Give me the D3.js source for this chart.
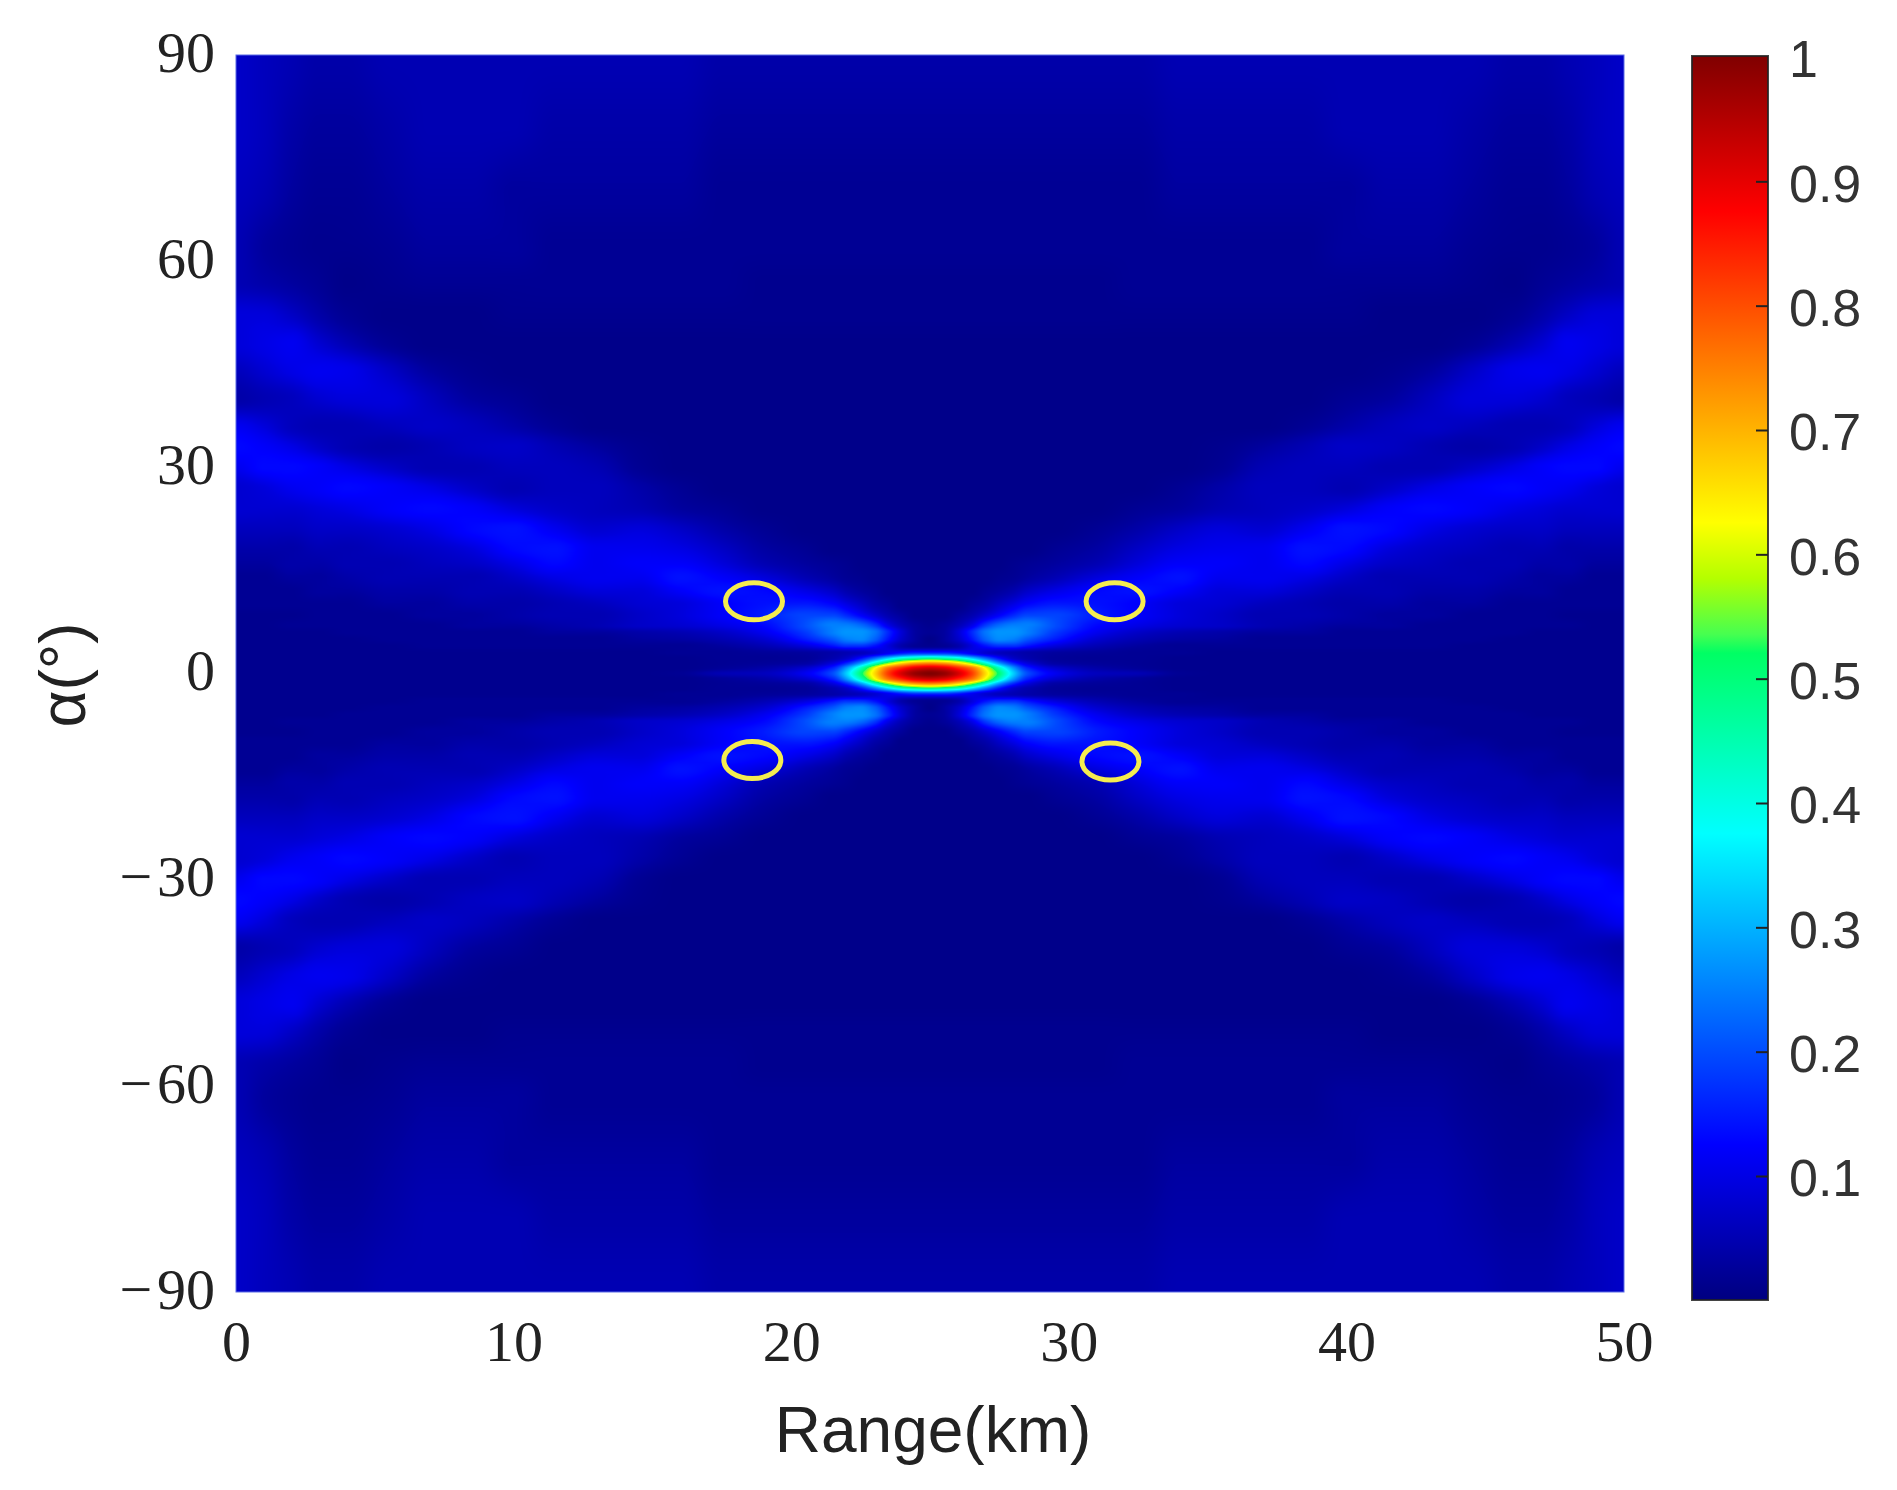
<!DOCTYPE html>
<html>
<head>
<meta charset="utf-8">
<script src="https://cdn.jsdelivr.net/npm/d3@7"></script>
<style>
  body { margin: 0; background: #fff; }
  .serif text { font-family: "Liberation Serif", serif; font-size: 58px; fill: #222; }
  .cbar text { font-family: "Liberation Sans", sans-serif; font-size: 52px; fill: #333; }
  .label { font-family: "Liberation Sans", sans-serif; font-size: 64px; fill: #222; }
</style>
</head>
<body>
<div id="chart"></div>
<script>
///////////////////////////////////////////////////////////////////////////
////////////////////////////////// Data ///////////////////////////////////
///////////////////////////////////////////////////////////////////////////

var xTicks = [0, 10, 20, 30, 40, 50];
var yTicks = [90, 60, 30, 0, -30, -60, -90];
var cbarTicks = [1, 0.9, 0.8, 0.7, 0.6, 0.5, 0.4, 0.3, 0.2, 0.1];

//Colormap (jet with a jump in the green part)
var colorStops = [0, 0.125, 0.375, 0.52, 0.535, 0.58, 0.625, 0.875, 1];
var colorValues = ["#000080", "#0000ff", "#00ffff", "#00ff64", "#46ff50", "#b4ff00", "#ffff00", "#ff0000", "#800000"];

//Picture is mirrored around 25 km and 0 degrees, so only one quadrant is read (in percent)
var rangeNodes = [0, 1, 2, 3, 4, 5.5, 7, 8.5, 10, 11.5, 13, 14.5, 16, 17.5, 19, 20.5, 21.5, 22, 22.5, 23, 23.5, 24, 24.5, 25];
var alphaNodes = [90, 80, 70, 62, 57, 52, 48, 44, 40, 36, 33, 30, 27, 24, 21, 18, 16, 14, 12, 10, 8.5, 7, 6, 5, 4, 3, 2.25, 1.5, 0.75, 0];
var heatValues = [
  [7, 6, 5, 4, 4, 5, 5, 5, 5, 5, 5, 5, 5, 4, 4, 4, 4, 4, 4, 4, 4, 4, 4, 4],
  [7, 6, 4, 3, 3, 4, 5, 5, 5, 4, 4, 4, 4, 3, 3, 3, 3, 3, 3, 3, 3, 3, 3, 3],
  [6, 5, 3, 2, 2, 3, 4, 4, 3, 3, 3, 3, 3, 2, 2, 2, 2, 2, 2, 2, 2, 2, 2, 2],
  [5, 3, 2, 1.5, 1.5, 2, 3, 3, 3, 2, 2, 2, 2, 2, 2, 2, 2, 2, 2, 2, 2, 2, 2, 2],
  [5, 4, 3, 2, 1, 1.5, 2, 2, 2, 2, 2, 2, 2, 2, 1.5, 1.5, 1.5, 1.5, 1.5, 1.5, 1.5, 1.5, 1.5, 1.5],
  [9, 9, 7, 4, 2, 1, 1, 1, 1.5, 1.5, 1.5, 1.5, 1.5, 1.5, 1.5, 1.5, 1.5, 1.5, 1.5, 1.5, 1.5, 1.5, 1.5, 1.5],
  [9, 10, 11, 8, 5, 2, 1, 1, 1, 1, 1, 1, 1, 1, 1, 1, 1, 1, 1, 1, 1, 1, 1, 1],
  [6, 8, 10, 11, 10.5, 7, 3, 1.5, 1, 1, 1, 1, 1, 1, 1, 1, 1, 1, 1, 1, 1, 1, 1, 1],
  [4, 5, 6, 8, 9, 9, 6, 3, 2, 1, 1, 1, 1, 1, 1, 1, 1, 1, 1, 1, 1, 1, 1, 1],
  [11, 9, 6, 5, 5, 6, 7, 6, 4, 2, 1, 1, 1, 1, 1, 1, 1, 1, 1, 1, 1, 1, 1, 1],
  [13, 12, 10, 7, 5, 4, 5, 6.5, 7, 5, 3, 1.5, 1, 1, 1, 1, 1, 1, 1, 1, 1, 1, 1, 1],
  [11, 13, 13, 12, 10, 7, 5, 5, 6, 6, 5, 2, 1, 1, 1, 1, 1, 1, 1, 1, 1, 1, 1, 1],
  [8, 9, 11, 12, 13, 12, 10, 7, 5, 6, 6, 4, 2, 1, 1, 1, 1, 1, 1, 1, 1, 1, 1, 1],
  [8, 8, 8, 9, 10, 12, 13, 12, 9, 7, 6, 5, 3, 2, 1, 1, 1, 1, 1, 1, 1, 1, 1, 1],
  [6, 6, 6, 7, 7, 8, 10, 13, 14, 11, 8, 9, 7, 4, 2, 1, 1, 1, 1, 1, 1, 1, 1, 1],
  [4, 4, 4, 5, 5, 6, 7, 9, 13, 14, 11, 11, 10, 7, 3.5, 2, 1, 1, 1, 1, 1, 1, 1, 1],
  [3, 3, 4, 4, 5, 5, 6, 7, 10, 13, 11, 12, 12, 9, 5, 3, 2, 1.5, 1, 1, 1, 1, 1, 1],
  [2, 2, 3, 3, 4, 5, 5, 5, 7, 10, 11, 11, 14, 12, 9, 5, 3, 2, 1.5, 1, 1, 1, 1, 1],
  [2, 2, 2, 3, 3, 4, 4, 5, 5, 7, 9, 9, 12, 14, 13, 10, 7, 4.5, 3, 2, 1, 1, 1, 1],
  [2, 2, 2, 2, 2, 3, 3, 4, 4, 5, 6, 8, 9, 12, 14, 15, 13, 10, 7, 4, 2.5, 1, 1, 1],
  [1.5, 1.5, 1.5, 2, 2, 2, 3, 3, 4, 5, 5, 7, 9, 12, 15, 19, 19, 16, 12, 8, 4.5, 2.5, 1, 1],
  [1.5, 1.5, 2, 2, 2, 2, 2, 3, 3, 4, 5, 7, 8, 10, 13, 20, 25, 25, 23, 18, 10, 5, 2.5, 1.5],
  [1.5, 1.5, 1.5, 1.5, 2, 2, 2, 2, 2, 3, 3, 4, 5, 7, 11, 18, 25, 27, 27, 24, 16, 8, 3, 2],
  [1.5, 1.5, 1.5, 1.5, 1.5, 2, 2, 2, 2, 2, 2, 3, 3.5, 5, 8, 15, 21, 25, 26, 22, 14, 7, 3, 1],
  [1.5, 1.5, 1.5, 1.5, 1.5, 1.5, 2, 2, 2, 2, 2, 2, 2, 3, 5, 9, 14, 17, 17, 14, 9, 4, 2, 1.5],
  [1.5, 1.5, 1.5, 1.5, 1.5, 1.5, 1.5, 1.5, 1.5, 1.5, 1.5, 1.5, 2, 2, 2.5, 3, 4, 5, 6, 8, 11, 14, 16, 16],
  [1.5, 1.5, 1.5, 1.5, 1.5, 1.5, 1.5, 1.5, 1.5, 1.5, 1.5, 1.5, 1.5, 2, 2, 2.5, 4.5, 7, 13, 22, 32, 40, 44, 46],
  [1.5, 1.5, 1.5, 1.5, 1.5, 1.5, 1.5, 1.5, 1.5, 1.5, 1.5, 1.5, 1.5, 2, 2.5, 3.5, 9, 16, 27, 42, 56, 66, 72, 74],
  [1.5, 1.5, 1.5, 1.5, 1.5, 1.5, 1.5, 1.5, 1.5, 1.5, 1.5, 1.5, 1.5, 2.5, 4, 8, 16, 28, 44, 62, 77, 85, 91, 93],
  [1.5, 1.5, 1.5, 1.5, 1.5, 1.5, 1.5, 1.5, 1.5, 1.5, 1.5, 1.5, 2, 5, 6, 11, 20, 33, 50, 66, 82, 92, 98, 100]
];

//Yellow markers, centres in km and degrees
var markerRange = [18.66, 31.65, 18.6, 31.5];
var markerAlpha = [10.5, 10.5, -12.6, -12.8];

///////////////////////////////////////////////////////////////////////////
///////////////////////////////// Set up //////////////////////////////////
///////////////////////////////////////////////////////////////////////////

var plot = {left: 236, right: 1624, top: 55, bottom: 1292};
var bar = {left: 1692, right: 1768, top: 56, bottom: 1300};

var svg = d3.select("#chart").append("svg")
  .attr("width", 1897)
  .attr("height", 1490)
  .style("display", "block");

var xScale = d3.scaleLinear().domain([0, 50]).range([plot.left, plot.right]);
var yScale = d3.scaleLinear().domain([-90, 90]).range([plot.bottom, plot.top]);
var cbarScale = d3.scaleLinear().domain([0.1, 1]).range([1176, 57]);
var colorScale = d3.scaleLinear().domain(colorStops).range(colorValues).clamp(true);

///////////////////////////////////////////////////////////////////////////
/////////////////////////////// Heat image ////////////////////////////////
///////////////////////////////////////////////////////////////////////////

//Monotone tangents, so the smooth drawing does not overshoot the read values
function tangents(xs, ys) {
  var m = [0];
  for (var i = 1; i < xs.length - 1; i++) {
    var d0 = (ys[i] - ys[i-1]) / (xs[i] - xs[i-1]);
    var d1 = (ys[i+1] - ys[i]) / (xs[i+1] - xs[i]);
    m.push(d0 * d1 <= 0 ? 0 : 2 * d0 * d1 / (d0 + d1));
  }
  m.push(0);
  return m;
}

function hermite(xs, ys, ms, x) {
  var i = Math.max(0, Math.min(xs.length - 2, d3.bisectRight(xs, x) - 1));
  var h = xs[i+1] - xs[i], t = (x - xs[i]) / h, t2 = t * t, t3 = t2 * t;
  return (2*t3 - 3*t2 + 1) * ys[i] + (t3 - 2*t2 + t) * h * ms[i] +
         (-2*t3 + 3*t2) * ys[i+1] + (t3 - t2) * h * ms[i+1];
}

var alphaAsc = alphaNodes.slice().reverse();
var columns = rangeNodes.map(function(d, j) {
  var ys = heatValues.map(function(row) { return row[j]; }).reverse();
  return {ys: ys, ms: tangents(alphaAsc, ys)};
});

var w = plot.right - plot.left, h = plot.bottom - plot.top;
var canvas = document.createElement("canvas");
canvas.width = w;
canvas.height = h;
var ctx = canvas.getContext("2d");
var img = ctx.createImageData(w, h);

var lut = d3.range(1001).map(function(i) { return d3.rgb(colorScale(i / 1000)); });

for (var py = 0; py < h; py++) {
  var alpha = Math.abs(yScale.invert(plot.top + py + 0.5));
  var rowVals = columns.map(function(c) { return hermite(alphaAsc, c.ys, c.ms, alpha); });
  var rowTan = tangents(rangeNodes, rowVals);
  for (var px = 0; px < w; px++) {
    var km = xScale.invert(plot.left + px + 0.5);
    var v = hermite(rangeNodes, rowVals, rowTan, 25 - Math.abs(km - 25)) / 100;
    var c = lut[Math.max(0, Math.min(1000, Math.round(v * 1000)))];
    var k = (py * w + px) * 4;
    img.data[k] = c.r; img.data[k+1] = c.g; img.data[k+2] = c.b; img.data[k+3] = 255;
  }
}
ctx.putImageData(img, 0, 0);

svg.append("image")
  .attr("x", plot.left)
  .attr("y", plot.top)
  .attr("width", w)
  .attr("height", h)
  .attr("href", canvas.toDataURL());

//Thin light edge around the image
svg.append("rect")
  .attr("x", plot.left)
  .attr("y", plot.top)
  .attr("width", w)
  .attr("height", h)
  .style("fill", "none")
  .style("stroke", "#5a6ae6")
  .style("stroke-width", 1);

///////////////////////////////////////////////////////////////////////////
//////////////////////////////// Markers //////////////////////////////////
///////////////////////////////////////////////////////////////////////////

svg.selectAll(".marker")
  .data(markerRange)
  .enter().append("ellipse")
  .attr("class", "marker")
  .attr("cx", function(d) { return xScale(d); })
  .attr("cy", function(d, i) { return yScale(markerAlpha[i]); })
  .attr("rx", 28.5)
  .attr("ry", 18.5)
  .style("fill", "none")
  .style("stroke", "#f5ec50")
  .style("stroke-width", 5);

///////////////////////////////////////////////////////////////////////////
////////////////////////////////// Axes ///////////////////////////////////
///////////////////////////////////////////////////////////////////////////

function signed(d) { return d < 0 ? "\u2212\u200a" + (-d) : "" + d; }

var xAxis = svg.append("g")
  .attr("class", "serif")
  .attr("transform", "translate(0," + plot.bottom + ")")
  .call(d3.axisBottom(xScale).tickValues(xTicks).tickSize(0).tickPadding(28).tickFormat(signed));
xAxis.select(".domain").remove();

var yAxis = svg.append("g")
  .attr("class", "serif")
  .attr("transform", "translate(" + plot.left + ",0)")
  .call(d3.axisLeft(yScale).tickValues(yTicks).tickSize(0).tickPadding(21).tickFormat(signed));
yAxis.select(".domain").remove();
yAxis.selectAll("text").attr("dy", "0.28em");

svg.append("text")
  .attr("class", "label")
  .attr("x", 933)
  .attr("y", 1452)
  .style("text-anchor", "middle")
  .text("Range(km)");

svg.append("text")
  .attr("class", "label")
  .attr("transform", "translate(85,675) rotate(-90)")
  .style("text-anchor", "middle")
  .text("\u03b1(\u00b0)");

///////////////////////////////////////////////////////////////////////////
/////////////////////////////// Colorbar //////////////////////////////////
///////////////////////////////////////////////////////////////////////////

var defs = svg.append("defs");

defs.append("linearGradient")
  .attr("id", "cbar-gradient")
  .attr("x1", "0%").attr("y1", "100%")
  .attr("x2", "0%").attr("y2", "0%")
  .selectAll("stop")
  .data(colorStops)
  .enter().append("stop")
  .attr("offset", function(d) { return d; })
  .attr("stop-color", function(d, i) { return colorValues[i]; });

svg.append("rect")
  .attr("x", bar.left)
  .attr("y", bar.top)
  .attr("width", bar.right - bar.left)
  .attr("height", bar.bottom - bar.top)
  .style("fill", "url(#cbar-gradient)")
  .style("stroke", "#222")
  .style("stroke-opacity", 0.85)
  .style("stroke-width", 2);

var cbarAxis = svg.append("g")
  .attr("class", "cbar")
  .attr("transform", "translate(" + bar.right + ",0)")
  .call(d3.axisRight(cbarScale).tickValues(cbarTicks).tickSize(-12).tickPadding(21).tickFormat(d3.format("")));
cbarAxis.select(".domain").remove();
cbarAxis.selectAll("line").style("stroke", "#222").style("stroke-width", 2);
cbarAxis.selectAll("line").filter(function(d) { return d === 1; }).remove();
cbarAxis.selectAll("text").attr("dy", "0.38em");
</script>
</body>
</html>
